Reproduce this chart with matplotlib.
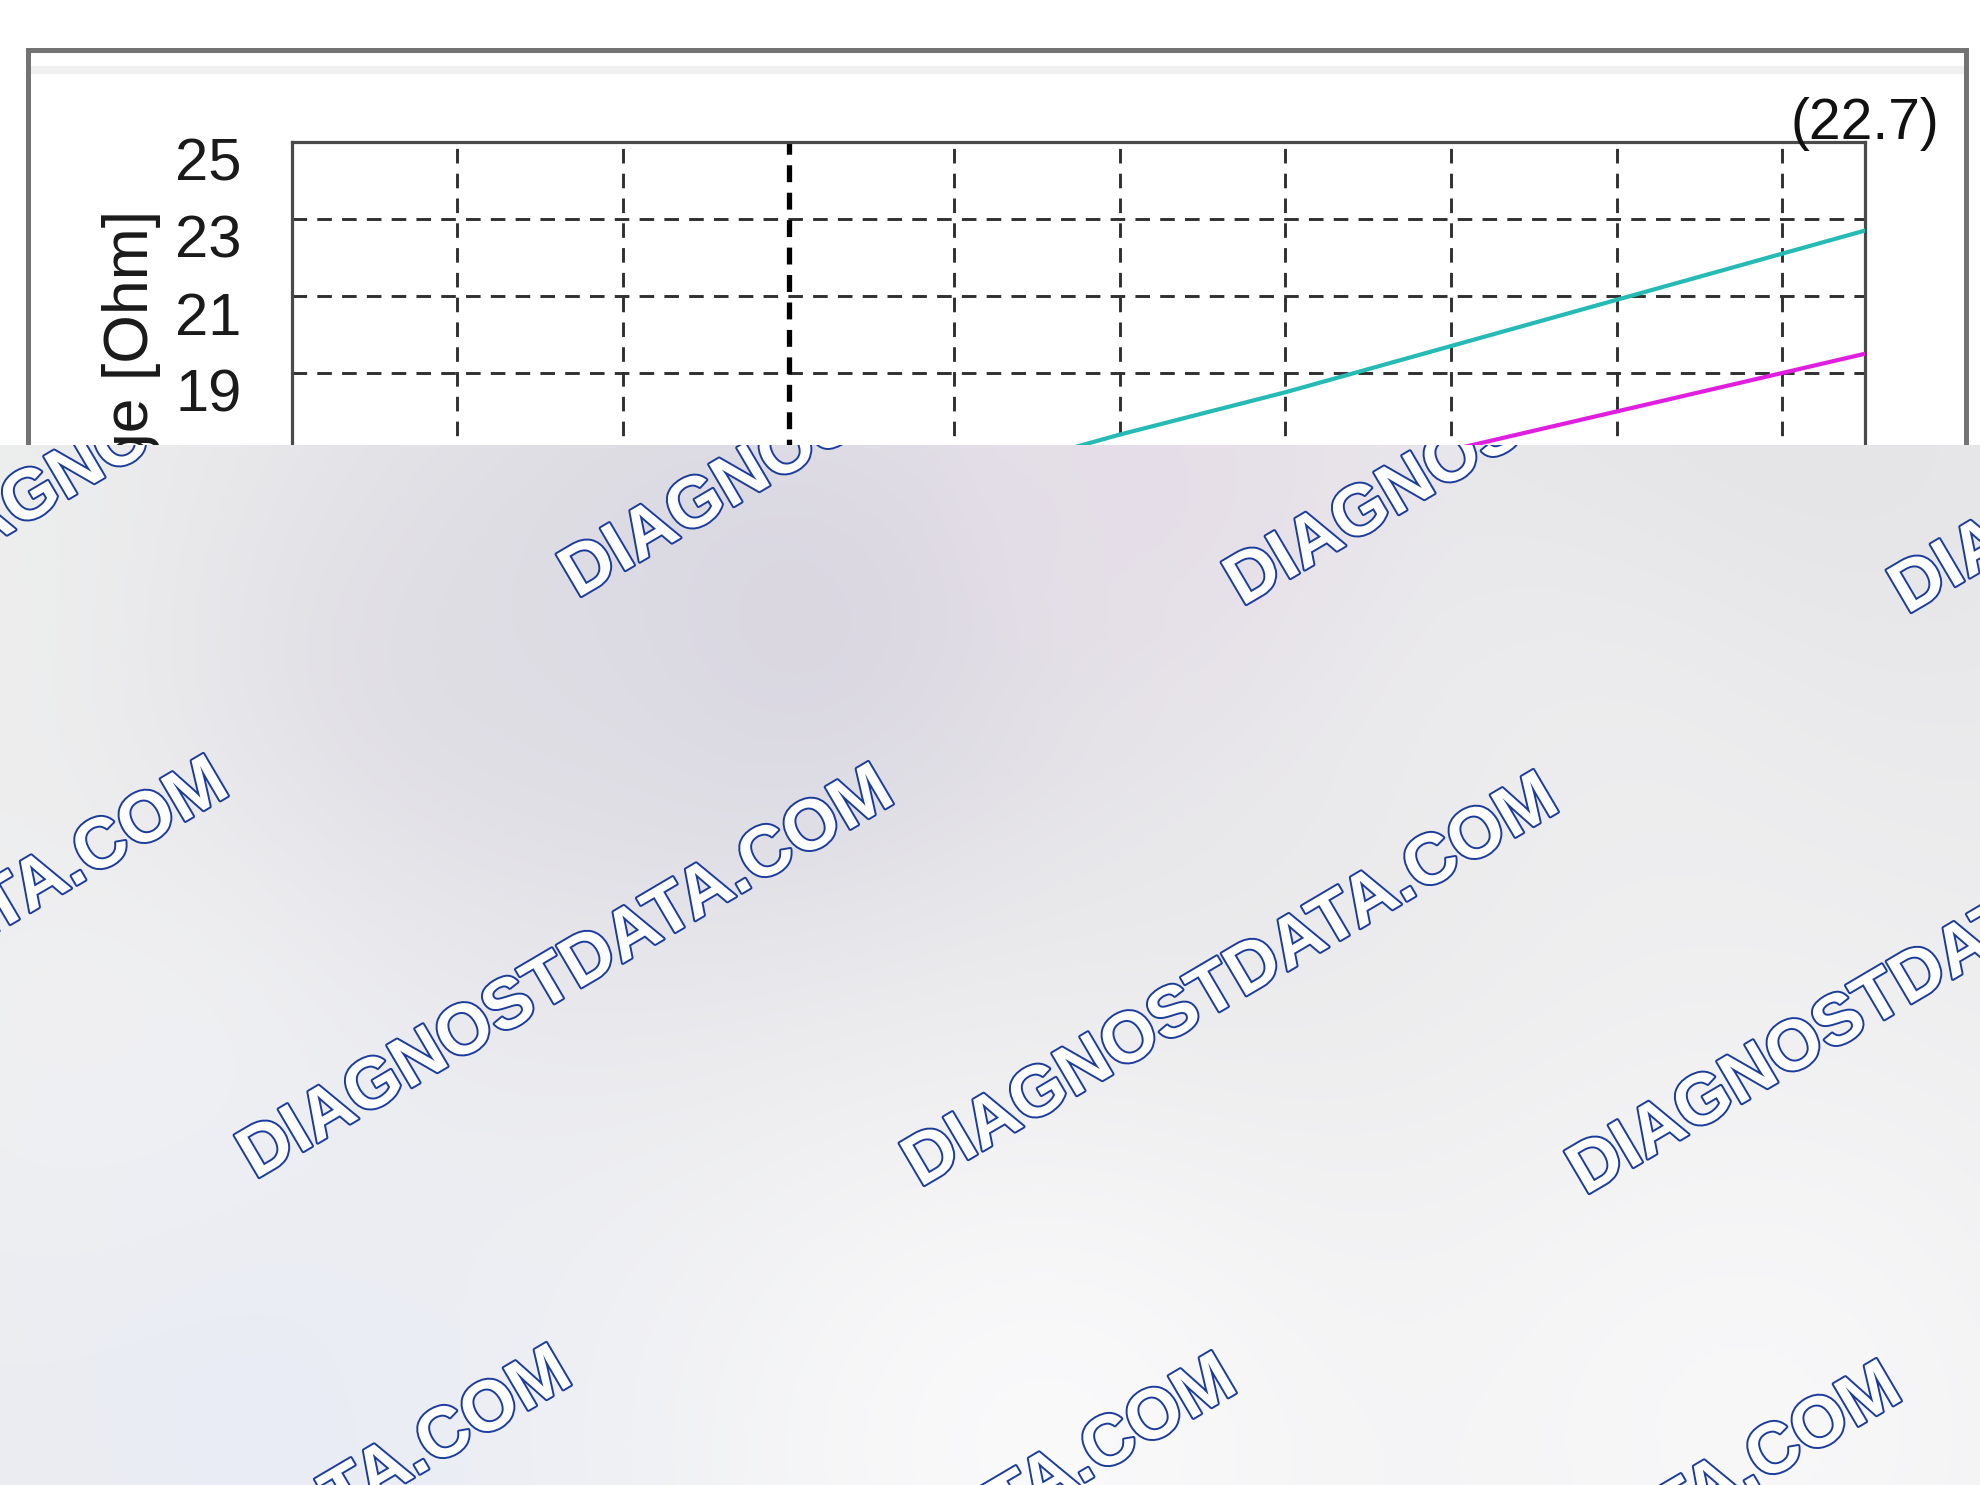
import numpy as np
import matplotlib
matplotlib.use("Agg")
import matplotlib.pyplot as plt
from matplotlib import patheffects as pe
from matplotlib.transforms import ScaledTranslation
from matplotlib.patches import Rectangle

# ---------------- data ----------------
temperature_c = [-40, -20, 0, 20, 40, 60, 80, 100, 120, 140, 150]
resistance_upper = [11.5, 12.6, 13.8, 15.0, 16.2, 17.4, 18.5, 19.7, 20.9, 22.1, 22.7]
resistance_lower = [9.9, 10.9, 11.9, 12.9, 13.9, 15.0, 16.0, 17.0, 18.0, 19.0, 19.5]
y_ticks = [9, 11, 13, 15, 17, 19, 21, 23, 25]
x_ticks = [-40, -20, 0, 20, 40, 60, 80, 100, 120, 140]
reference_temp = 20
end_label = "(22.7)"
y_label = "Resistance range [Ohm]"
x_label = "Temperature [°C]"
watermark = "DIAGNOSTDATA.COM"

FONT = ["Liberation Sans", "DejaVu Sans"]
plt.rcParams["font.family"] = FONT

W_PX, H_PX, DPI = 1980, 1485, 100
fig = plt.figure(figsize=(W_PX / DPI, H_PX / DPI), dpi=DPI, facecolor="white")

# outer frame
fig.patches.append(Rectangle((28 / W_PX, 0.02), (1966 - 28) / W_PX, 1 - 50 / H_PX - 0.02,
                             transform=fig.transFigure, fill=False, edgecolor="#737373",
                             linewidth=3.6, zorder=0))
fig.lines.append(plt.Line2D([31 / W_PX, 1963 / W_PX], [1 - 70 / H_PX] * 2, transform=fig.transFigure,
                            color="#f0f0f0", linewidth=6, zorder=0))

# ---------------- main axes ----------------
ax_left, ax_right = 291.7 / W_PX, 1865.0 / W_PX
ax_top_px = 142.0
px_per_ohm = 38.5
ylim = (9, 25)
ax_h_px = (ylim[1] - ylim[0]) * px_per_ohm
ax = fig.add_axes([ax_left, 1 - (ax_top_px + ax_h_px) / H_PX, ax_right - ax_left, ax_h_px / H_PX])
ax.set_xlim(-40, 150)
ax.set_ylim(*ylim)
ax.set_yticks(y_ticks)
ax.set_xticks(x_ticks)
ax.tick_params(axis="both", length=0, labelsize=43, pad=36, colors="#1a1a1a")
for lab in ax.get_yticklabels():
    lab.set_transform(lab.get_transform() + ScaledTranslation(0, -0.17, fig.dpi_scale_trans))
for sp in ax.spines.values():
    sp.set_color("#4a4a4a")
    sp.set_linewidth(2.3)

grid_kw = dict(color="#303030", linewidth=2.1, dashes=(5, 3.5))
for y in y_ticks:
    if ylim[0] < y < ylim[1]:
        ax.axhline(y, zorder=1, **grid_kw)
for x in x_ticks[1:]:
    if x == reference_temp:
        ax.axvline(x, color="black", linewidth=3.8, dashes=(3.2, 2.0), zorder=1.5)
    else:
        ax.axvline(x, zorder=1, **grid_kw)

ax.plot(temperature_c, resistance_upper, color="#25bab3", linewidth=3.0, zorder=3)
ax.plot(temperature_c, resistance_lower, color="#e01ee0", linewidth=3.0, zorder=3)

ax.annotate(end_label, xy=(temperature_c[-1], 1), xycoords=("data", "axes fraction"),
            xytext=(0, 13), textcoords="offset points", ha="center", va="center",
            fontsize=41, color="#111111", annotation_clip=False)

ax.set_ylabel(y_label, fontsize=45, color="#1a1a1a")
ax.yaxis.label.set(rotation_mode="anchor", ha="right", va="center")
ax.yaxis.set_label_coords((132 - 291.7) / (1865.0 - 291.7), (ax_top_px + ax_h_px - 210) / ax_h_px)
ax.set_xlabel(x_label, fontsize=43)

# ---------------- blurred overlay with watermark ----------------
ov_top = 444.5
ov = fig.add_axes([0, 0, 1, 1 - ov_top / H_PX], zorder=10)
ov.set_axis_off()
ov.set_xlim(0, W_PX)
ov.set_ylim(H_PX, ov_top)

gy, gx = np.mgrid[ov_top:H_PX:260j, 0:W_PX:495j]
img = np.ones(gx.shape + (3,)) * np.array([0.925, 0.925, 0.93])
# (x, y, sigma, strength, colour) soft colour patches of the blurred area
patches_def = [
    (80, 620, 180, 0.7, (0.94, 0.945, 0.94)),
    (600, 480, 220, 0.6, (0.875, 0.875, 0.895)),
    (820, 650, 230, 0.9, (0.84, 0.83, 0.875)),
    (420, 740, 200, 0.7, (0.86, 0.85, 0.885)),
    (1180, 500, 180, 0.8, (0.90, 0.86, 0.91)),
    (1750, 470, 250, 0.7, (0.875, 0.875, 0.89)),
    (1600, 760, 220, 0.6, (0.94, 0.94, 0.945)),
    (1200, 1100, 260, 0.6, (0.885, 0.885, 0.89)),
    (150, 1080, 220, 0.7, (0.955, 0.955, 0.955)),
    (300, 1440, 260, 0.8, (0.91, 0.925, 0.965)),
    (1050, 1440, 300, 0.9, (0.985, 0.985, 0.99)),
    (1750, 1430, 300, 0.9, (0.975, 0.975, 0.98)),
]
for cx, cy, s, a, c in patches_def:
    w = a * np.exp(-((gx - cx) ** 2 + (gy - cy) ** 2) / (2 * s ** 2))
    img = img * (1 - w[..., None]) + np.array(c) * w[..., None]
ov.imshow(img, extent=[0, W_PX, H_PX, ov_top], aspect="auto", interpolation="bilinear", zorder=0)

base = np.array([567.0, 975.0])
step_h = np.array([665.0, 8.0])
step_v = np.array([322.0, -581.0])
for j in (-1, 0, 1):
    for i in range(-2, 4):
        cx, cy = base + i * step_h + j * step_v
        if -600 < cx < 2600 and 200 < cy < 1900:
            ov.text(cx, cy, watermark, rotation=30.5, rotation_mode="anchor",
                    ha="center", va="center", fontsize=51, fontweight="bold",
                    family=FONT, color="white", clip_on=True, zorder=2,
                    path_effects=[pe.Stroke(linewidth=2.8, foreground="#1c3c9c"), pe.Normal()])

fig.savefig("out.png", dpi=DPI, facecolor="white")
